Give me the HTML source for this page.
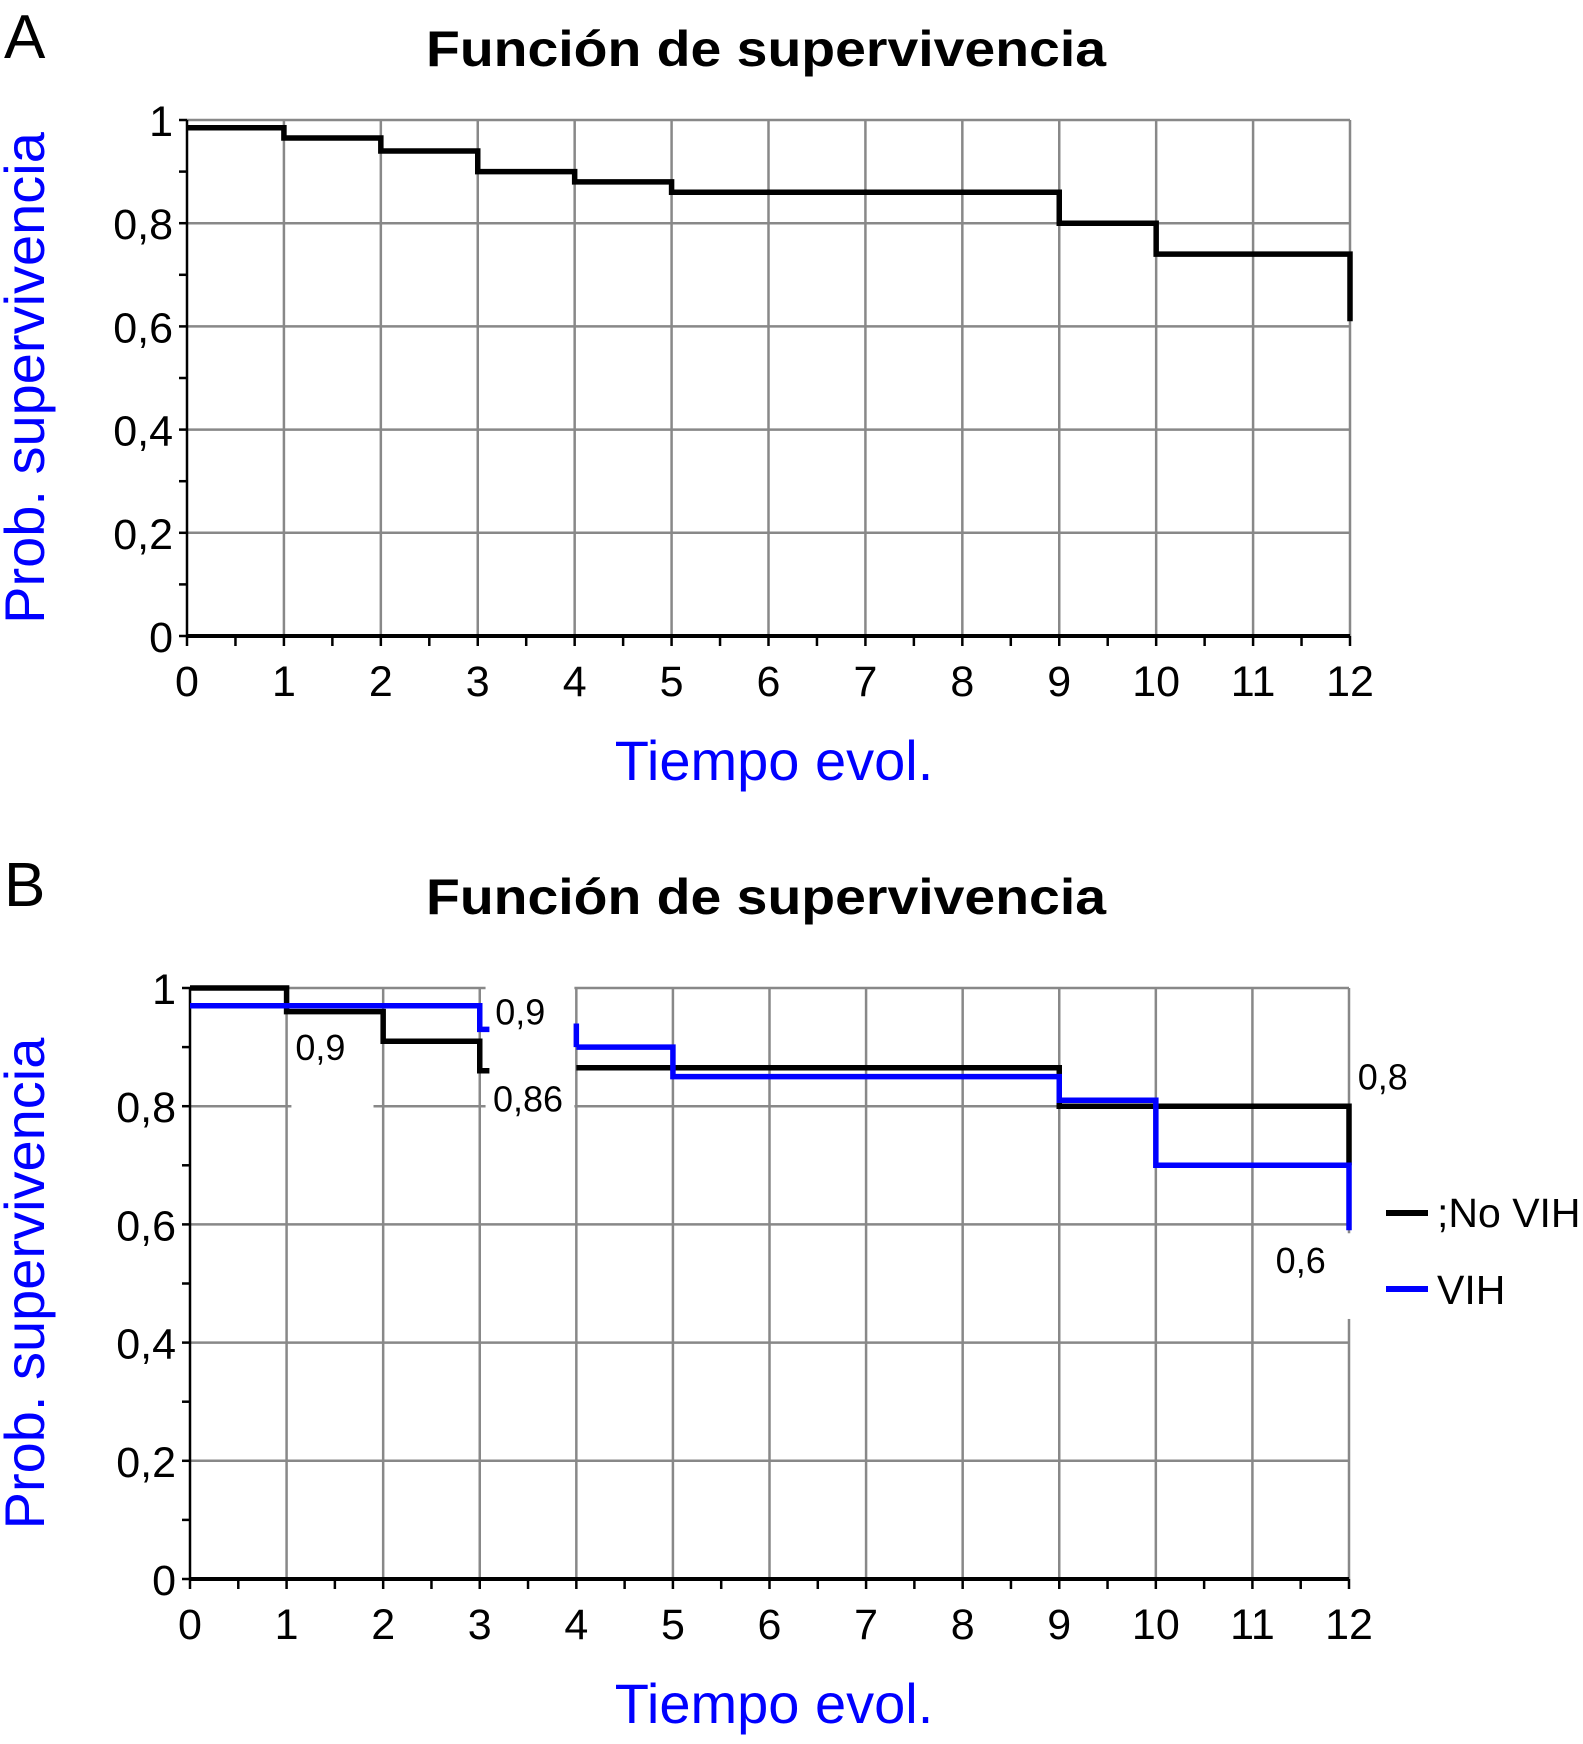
<!DOCTYPE html>
<html><head><meta charset="utf-8"><style>
html,body{margin:0;padding:0;background:#fff;}
svg{display:block;font-family:"Liberation Sans",sans-serif;}
</style></head><body>
<svg id="fig" width="1583" height="1744" viewBox="0 0 1583 1744"></svg>
<script>
const xTicks=[0,1,2,3,4,5,6,7,8,9,10,11,12];
const yTickLabels=["0","0,2","0,4","0,6","0,8","1"];
const yTickValues=[0,0.2,0.4,0.6,0.8,1];
// Panel A: step intervals
const aStart=[0,1,2,3,4,5,9,10];
const aEnd=[1,2,3,4,5,9,10,12];
const aSurv=[0.985,0.965,0.94,0.90,0.88,0.86,0.80,0.74];
const aFinal=0.61;
// Panel B: No VIH
const nStart=[0,1,2,3,4,5,9];
const nEnd=[1,2,3,3.1,5,9,12];
const nSurv=[1.0,0.96,0.91,0.86,0.865,0.865,0.80];
const nFinal=0.70;
// Panel B: VIH
const vStart=[0,3,4,5,9,10];
const vEnd=[3,3.1,5,9,10,12];
const vSurv=[0.97,0.93,0.90,0.85,0.81,0.70];
const vFinal=0.59;
const vPre4=0.94;
const bLabels=["0,9","0,9","0,86","0,8","0,6"];
const bLabelX=[1.35,3.42,3.5,12.35,11.5];
const bLabelY=[0.90,0.96,0.813,0.85,0.54];

const NS="http://www.w3.org/2000/svg";
const svg=document.getElementById('fig');
function el(t,a,p){const e=document.createElementNS(NS,t);for(const k in a)e.setAttribute(k,a[k]);(p||svg).appendChild(e);return e;}
function txt(s,a,p){const e=el('text',a,p);e.textContent=s;return e;}

function panel(name,letter,x0,x12,y1,y0,top){
  const g=el('g',{});
  
  
  const X=v=>x0+(x12-x0)*v/12, Y=v=>y0-(y0-y1)*v;
  const L=txt(letter,{x:4,y:top+58,'font-size':62,fill:'#000'},g);
  
  const T=txt('Función de supervivencia',{x:766,y:top+66,'font-size':50,'font-weight':'bold','text-anchor':'middle',textLength:680,lengthAdjust:'spacingAndGlyphs'},g);
  
  const grid=el('g',{stroke:'#888','stroke-width':2.5},g);
  
  yTickValues.forEach(v=>{if(v>0)el('line',{x1:x0,x2:x12,y1:Y(v),y2:Y(v)},grid);});
  xTicks.forEach(v=>{if(v>0)el('line',{x1:X(v),x2:X(v),y1:y1,y2:y0},grid);});
  const ax=el('g',{stroke:'#000','stroke-width':2.5},g);
  
  el('line',{x1:x0,x2:x0,y1:y1,y2:y0},ax);
  el('line',{x1:x0,x2:x12,y1:y0,y2:y0,'stroke-width':4},ax);
  for(let i=0;i<=10;i++)el('line',{x1:x0-8,x2:x0,y1:Y(i/10),y2:Y(i/10)},ax);
  for(let i=0;i<=24;i++)el('line',{x1:X(i/2),x2:X(i/2),y1:y0,y2:y0+10},ax);
  yTickValues.forEach((v,i)=>{const t=txt(yTickLabels[i],{x:x0-14,y:Y(v)+16,'font-size':43,'text-anchor':'end'},g);
    });
  xTicks.forEach(v=>{const t=txt(String(v),{x:X(v),y:y0+60,'font-size':43,'text-anchor':'middle'},g);
    });
  const xt=txt('Tiempo evol.',{x:774,y:y0+144,'font-size':56,'text-anchor':'middle',fill:'#0000ff'},g);
  
  const yt=txt('Prob. supervivencia',{x:0,y:0,'font-size':56,'text-anchor':'middle',fill:'#0000ff',transform:`translate(44,${(y0+y1)/2}) rotate(-90)`},g);
  
  return {g,X,Y};
}
function steps(P,st,en,sv,fin,color,name,pre){
  let d='';
  for(let i=0;i<st.length;i++){
    const cont=i>0&&en[i-1]===st[i];
    d+=(cont?'L':'M')+P.X(st[i])+' '+P.Y(cont?sv[i-1]:sv[i])+(cont?' L'+P.X(st[i])+' '+P.Y(sv[i]):'')+' L'+P.X(en[i])+' '+P.Y(sv[i])+' ';
  }
  d+='L'+P.X(en[en.length-1])+' '+P.Y(fin);
  if(pre!==undefined)d+=' M'+P.X(4)+' '+P.Y(pre)+' L'+P.X(4)+' '+P.Y(0.90);
  const p=el('path',{d:d,fill:'none',stroke:color,'stroke-width':5.5},P.g);
  
  
}
const A=panel('panel-a','A',187,1350,120,636,0);
steps(A,aStart,aEnd,aSurv,aFinal,'#000','survival-curve');

const B=panel('panel-b','B',190,1349,988,1579,848);
el('rect',{x:B.X(1.05),y:B.Y(0.83),width:B.X(1.9)-B.X(1.05),height:B.Y(0.78)-B.Y(0.83),fill:'#fff'},B.g);
el('rect',{x:B.X(3.06),y:B.Y(1.02),width:B.X(3.98)-B.X(3.06),height:B.Y(0.78)-B.Y(1.02),fill:'#fff'},B.g);
el('rect',{x:B.X(11.98),y:B.Y(0.585),width:B.X(12.3)-B.X(11.98),height:B.Y(0.44)-B.Y(0.585),fill:'#fff'},B.g);
steps(B,nStart,nEnd,nSurv,nFinal,'#000','no-vih-curve');
steps(B,vStart,vEnd,vSurv,vFinal,'#0000ff','vih-curve',vPre4);
bLabels.forEach((s,i)=>{const t=txt(s,{x:B.X(bLabelX[i]),y:B.Y(bLabelY[i])+13,'font-size':36,'text-anchor':'middle'},B.g);
  });
const lg=el('g',{},B.g);

const l1=el('g',{},lg);
el('line',{x1:1386,x2:1428,y1:1213,y2:1213,stroke:'#000','stroke-width':6},l1);
txt(';No VIH',{x:1437,y:1227,'font-size':41},l1);
const l2=el('g',{},lg);
el('line',{x1:1386,x2:1428,y1:1289,y2:1289,stroke:'#0000ff','stroke-width':6},l2);
txt('VIH',{x:1437,y:1304,'font-size':41},l2);
</script>
</body></html>
